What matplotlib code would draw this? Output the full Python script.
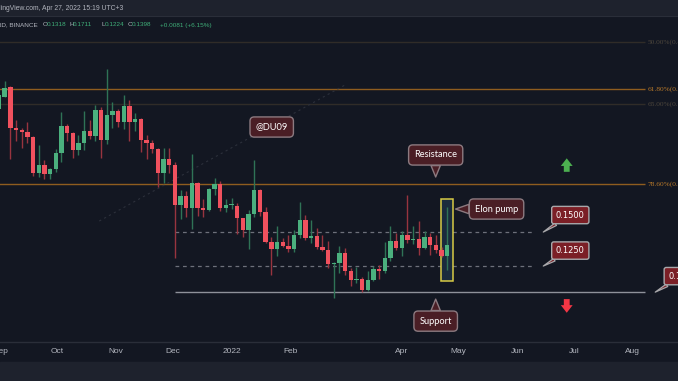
import numpy as np
import matplotlib
matplotlib.use('Agg')
import matplotlib.pyplot as plt
import matplotlib.dates as mdates
from matplotlib.patches import Rectangle
from matplotlib.ticker import NullLocator

# ---------------- data ----------------
first_bar = '2021-08-31'   # 3-day candles
opens = [0.2901, 0.3099, 0.3259, 0.2624, 0.2596, 0.2569, 0.2497, 0.2058, 0.2149, 0.2044,
         0.2100, 0.2288, 0.2648, 0.2555, 0.2329, 0.2421, 0.2574, 0.2506, 0.2886, 0.2457,
         0.2809, 0.2870, 0.2710, 0.2953, 0.2710, 0.2745, 0.2457, 0.2414, 0.2337, 0.2062,
         0.2215, 0.2149, 0.1734, 0.1819, 0.1709, 0.1954, 0.1709, 0.1688, 0.1889, 0.1937,
         0.1703, 0.1731, 0.1728, 0.1614, 0.1516, 0.1652, 0.1879, 0.1672, 0.1424, 0.1369,
         0.1420, 0.1392, 0.1369, 0.1476, 0.1600, 0.1452, 0.1465, 0.1382, 0.1362, 0.1263,
         0.1272, 0.1342, 0.1219, 0.1160, 0.1164, 0.1099, 0.1160, 0.1228, 0.1215, 0.1303,
         0.1429, 0.1379, 0.1476, 0.1437, 0.1442, 0.1379, 0.1463, 0.1399, 0.1362, 0.1318]
highs = [0.3247, 0.3377, 0.3282, 0.2735, 0.2616, 0.2710, 0.2510, 0.2392, 0.2207, 0.2118,
         0.2337, 0.2850, 0.2677, 0.2570, 0.2524, 0.2863, 0.2735, 0.2964, 0.2937, 0.3595,
         0.3007, 0.2901, 0.3127, 0.3045, 0.2835, 0.2760, 0.2524, 0.2457, 0.2350, 0.2350,
         0.2357, 0.2183, 0.1879, 0.1872, 0.2275, 0.1960, 0.1788, 0.1895, 0.2001, 0.1972,
         0.1788, 0.1797, 0.1750, 0.1620, 0.1688, 0.2207, 0.1885, 0.1718, 0.1458, 0.1549,
         0.1450, 0.1476, 0.1516, 0.1765, 0.1643, 0.1600, 0.1535, 0.1476, 0.1432, 0.1276,
         0.1394, 0.1374, 0.1235, 0.1241, 0.1180, 0.1219, 0.1250, 0.1257, 0.1424, 0.1549,
         0.1490, 0.1508, 0.1829, 0.1549, 0.1594, 0.1508, 0.1490, 0.1476, 0.1386, 0.1711]
lows = [0.2855, 0.3094, 0.2219, 0.2444, 0.2357, 0.2414, 0.2029, 0.2011, 0.1990, 0.1993,
        0.2073, 0.2187, 0.2444, 0.2227, 0.2267, 0.2329, 0.2470, 0.2438, 0.2234, 0.2405,
        0.2616, 0.2638, 0.2606, 0.2438, 0.2582, 0.2307, 0.2219, 0.2288, 0.1906, 0.1948,
        0.2058, 0.1307, 0.1611, 0.1628, 0.1527, 0.1634, 0.1628, 0.1681, 0.1829, 0.1681,
        0.1672, 0.1697, 0.1482, 0.1458, 0.1369, 0.1628, 0.1637, 0.1412, 0.1191, 0.1321,
        0.1386, 0.1350, 0.1350, 0.1450, 0.1437, 0.1412, 0.1369, 0.1357, 0.1235, 0.1051,
        0.1202, 0.1191, 0.1123, 0.1139, 0.1089, 0.1093, 0.1155, 0.1164, 0.1206, 0.1284,
        0.1362, 0.1319, 0.1412, 0.1407, 0.1326, 0.1369, 0.1326, 0.1338, 0.1310, 0.1224]
closes = [0.3127, 0.3252, 0.2624, 0.2596, 0.2569, 0.2497, 0.2058, 0.2149, 0.2044, 0.2103,
          0.2288, 0.2648, 0.2555, 0.2329, 0.2421, 0.2574, 0.2506, 0.2886, 0.2457, 0.2809,
          0.2870, 0.2710, 0.2953, 0.2710, 0.2745, 0.2457, 0.2414, 0.2337, 0.2062, 0.2215,
          0.2149, 0.1734, 0.1819, 0.1709, 0.1954, 0.1709, 0.1688, 0.1889, 0.1937, 0.1703,
          0.1731, 0.1735, 0.1614, 0.1516, 0.1652, 0.1879, 0.1672, 0.1424, 0.1369, 0.1420,
          0.1392, 0.1369, 0.1476, 0.1600, 0.1450, 0.1465, 0.1382, 0.1362, 0.1263, 0.1272,
          0.1342, 0.1219, 0.1160, 0.1164, 0.1099, 0.1160, 0.1228, 0.1215, 0.1303, 0.1429,
          0.1379, 0.1476, 0.1437, 0.1442, 0.1379, 0.1463, 0.1399, 0.1362, 0.1318, 0.1398]

fib_levels = [0.4156, 0.3225, 0.2980, 0.1940]
fib_labels = ['50.00%(0.4156)', '61.80%(0.3225)', '65.00%(0.2980)', '78.60%(0.1940)']
dash_levels = [0.1500, 0.1250]
support_level = 0.1087
support_label = '0.1090'

tick_dates = ['2021-09-01', '2021-10-01', '2021-11-01', '2021-12-01', '2022-01-01',
              '2022-02-01', '2022-04-01', '2022-05-01', '2022-06-01', '2022-07-01',
              '2022-08-01']
tick_labels = ['Sep', 'Oct', 'Nov', 'Dec', '2022', 'Feb', 'Apr', 'May', 'Jun', 'Jul', 'Aug']

header_time = 'TradingView.com, Apr 27, 2022 15:19 UTC+3'
symbol = 'DOGE / TetherUS, 3D, BINANCE'
ohlc_names = ['O', 'H', 'L', 'C']
ohlc_vals = ['0.1318', '0.1711', '0.1224', '0.1398']
change_txt = '+0.0081 (+6.15%)'

# ---------------- styling ----------------
BG = '#131722'
BAND = '#1e222d'
UP, DOWN = '#4bb07e', '#f0515e'
UPW, DOWNW = '#2f7356', '#98343f'
TXT = '#b2b5be'
ORANGE_L, ORANGE_T = '#8f5d1f', '#b8792a'
DIM_L, DIM_T = '#302c28', '#4d463c'
CALL_FC, CALL_EC = '#4a1e25', '#8c7a80'
PL_FC, PL_EC = '#7b1f26', '#a8a8ab'

W, H = 678, 381
def fx(px): return px / W
def fy(py): return 1 - py / H

fig = plt.figure(figsize=(6.78, 3.81), dpi=100)
fig.patch.set_facecolor(BG)

ax = fig.add_axes([0, fy(342), 1, (342 - 16) / H])
ax.set_facecolor(BG)
ax.set_yscale('log')

O = np.array(opens); Hh = np.array(highs); L = np.array(lows); C = np.array(closes)
dates = np.datetime64(first_bar) + np.arange(len(O)) * np.timedelta64(3, 'D')
xs = mdates.date2num(dates)
up = C >= O

def dn(s):
    return mdates.date2num(np.datetime64(s))

x0 = xs[0] + 0.53
ax.set_xlim(x0, x0 + 358.5)
ax.set_ylim(0.0832, 0.4776)

# fib levels
fib_line_cols = [DIM_L, ORANGE_L, DIM_L, ORANGE_L]
fib_txt_cols = [DIM_T, ORANGE_T, DIM_T, ORANGE_T]
fib_end = dn('2022-08-07') + 0.6
for lv, lab, lc, tc in zip(fib_levels, fib_labels, fib_line_cols, fib_txt_cols):
    ax.hlines(lv, x0 - 20, fib_end, colors=lc, lw=1.0, zorder=1)
    ax.text(fib_end + 1.3, lv, lab, color=tc, fontsize=5.3, va='center', ha='left',
            family='Liberation Serif', zorder=1, clip_on=False)

# faint fib trend line
ax.plot([dn('2021-10-23'), dn('2022-03-02')], [0.1591, 0.3300], color='#2c303b',
        lw=0.8, ls=(0, (2, 3)), zorder=1)

# dashed levels and support
ax.hlines(dash_levels, dn('2021-12-02'), dn('2022-06-08') + 0.7, colors='#6d707a',
          linestyles=(0, (3, 3)), lw=0.9, zorder=1)
ax.hlines(support_level, dn('2021-12-02'), fib_end, colors='#8e919a', lw=1.0, zorder=1)

# highlight box on last candle
ax.add_patch(Rectangle((xs[-1] - 3.3, 0.1155), 6.5, 0.1788 - 0.1155, facecolor='#1a2b3d',
                       edgecolor='#d8cb45', lw=1.1, zorder=1.5))

# candles
ax.vlines(xs, L, Hh, colors=np.where(up, UPW, DOWNW), lw=1.0, zorder=2)
body = np.maximum(np.abs(C - O), 0.006 * np.minimum(O, C))
ax.bar(xs, body, bottom=np.minimum(O, C), width=2.3, color=np.where(up, UP, DOWN),
       linewidth=0, zorder=3)

# callouts
def callout(text, xy, off, tw=1.0):
    ax.annotate(text, xy=xy, xytext=off, textcoords='offset pixels', ha='center',
                va='center', color='white', fontsize=6.7, family='Lato', zorder=6,
                bbox=dict(boxstyle='round,pad=0.6,rounding_size=0.45', fc=CALL_FC,
                          ec=CALL_EC, lw=1.0),
                arrowprops=dict(arrowstyle=f'wedge,tail_width={tw},shrink_factor=0.5',
                                fc=CALL_FC, ec=CALL_EC, lw=1.0, shrinkA=0, shrinkB=0))

callout('Resistance', (dn('2022-04-18') + 0.9, 0.2015), (0, 22))
callout('Support', (dn('2022-04-18') + 0.9, 0.1047), (0, -22))
callout('Elon pump', (dn('2022-04-29') + 0.4, 0.1697), (41, 0))
ax.text(dn('2022-01-22') + 0.2, 0.2634, '@DU09', ha='center', va='center', color='white',
        fontsize=6.7, family='Lato', zorder=6,
        bbox=dict(boxstyle='round,pad=0.6,rounding_size=0.45', fc=CALL_FC, ec=CALL_EC, lw=1.0))

def price_label(level, txt, xdate, off):
    ax.annotate(txt, xy=(xdate, level), xytext=off, textcoords='offset pixels', ha='center',
                va='center', color='white', fontsize=6.0, family='DejaVu Sans', zorder=6,
                annotation_clip=False,
                bbox=dict(boxstyle='round,pad=0.5,rounding_size=0.25', fc=PL_FC, ec=PL_EC, lw=1.0),
                arrowprops=dict(arrowstyle='wedge,tail_width=0.35,shrink_factor=0.5',
                                fc=PL_FC, ec=PL_EC, lw=0.9, shrinkA=0, shrinkB=0))

price_label(dash_levels[0], f'{dash_levels[0]:.4f}', dn('2022-06-14') + 0.8, (27, 17))
price_label(dash_levels[1], f'{dash_levels[1]:.4f}', dn('2022-06-14') + 0.8, (27, 15.5))
price_label(support_level, support_label, dn('2022-08-13') + 0.0, (27.5, 16))

# arrows
ax.annotate('', xy=(dn('2022-06-27') + 0.2, 0.2227), xytext=(0, -13.5), textcoords='offset pixels',
            arrowprops=dict(arrowstyle='simple,head_length=0.55,head_width=0.85,tail_width=0.42',
                            fc='#4caf50', ec='none', shrinkA=0, shrinkB=0, mutation_scale=10),
            zorder=6)
ax.annotate('', xy=(dn('2022-06-27') + 0.2, 0.0973), xytext=(0, 13.7), textcoords='offset pixels',
            arrowprops=dict(arrowstyle='simple,head_length=0.55,head_width=0.85,tail_width=0.42',
                            fc='#f23645', ec='none', shrinkA=0, shrinkB=0, mutation_scale=10),
            zorder=6)

# axes styling
for s in ['top', 'left', 'right']:
    ax.spines[s].set_visible(False)
ax.spines['bottom'].set_color('#2a2e39')
ax.spines['bottom'].set_linewidth(1.0)
ax.yaxis.set_major_locator(NullLocator())
ax.yaxis.set_minor_locator(NullLocator())
ax.tick_params(axis='y', which='both', left=False, labelleft=False)
ax.set_xticks(mdates.date2num(np.array(tick_dates, dtype='datetime64[D]')))
ax.set_xticklabels(tick_labels)
ax.xaxis.set_minor_locator(NullLocator())
ax.tick_params(axis='x', length=0, pad=4.5, labelsize=6.0, labelcolor=TXT)
for lbl in ax.get_xticklabels():
    lbl.set_family('Liberation Sans')

# bands
fig.add_artist(Rectangle((0, fy(16)), 1, 16 / H, transform=fig.transFigure, color=BAND, zorder=-5))
fig.add_artist(Rectangle((0, 0), 1, 19 / H, transform=fig.transFigure, color=BAND, zorder=-5))
fig.add_artist(plt.Line2D([0, 1], [fy(16), fy(16)], transform=fig.transFigure, color='#2a2e39', lw=0.8))

# header texts
fig.text(fx(123), fy(8.5), header_time, ha='right', va='center', fontsize=4.85,
         color=TXT, family='Liberation Sans')
FS = 4.6
fig.text(fx(38), fy(25), symbol, ha='right', va='center', fontsize=FS,
         color=TXT, family='Liberation Sans')
GREEN_T = '#3fae78'
for nm, v, xp in zip(ohlc_names, ohlc_vals, [42.7, 69.0, 101.0, 128.0]):
    fig.text(fx(xp), fy(25), nm, ha='left', va='center', fontsize=FS, color=TXT,
             family='Liberation Sans')
    fig.text(fx(xp + 4.2), fy(25), v, ha='left', va='center', fontsize=FS, color=GREEN_T,
             family='Liberation Sans')
fig.text(fx(160), fy(25), change_txt, ha='left', va='center', fontsize=FS, color=GREEN_T,
         family='Liberation Sans')

fig.savefig('out.png', dpi=100, facecolor=BG)
